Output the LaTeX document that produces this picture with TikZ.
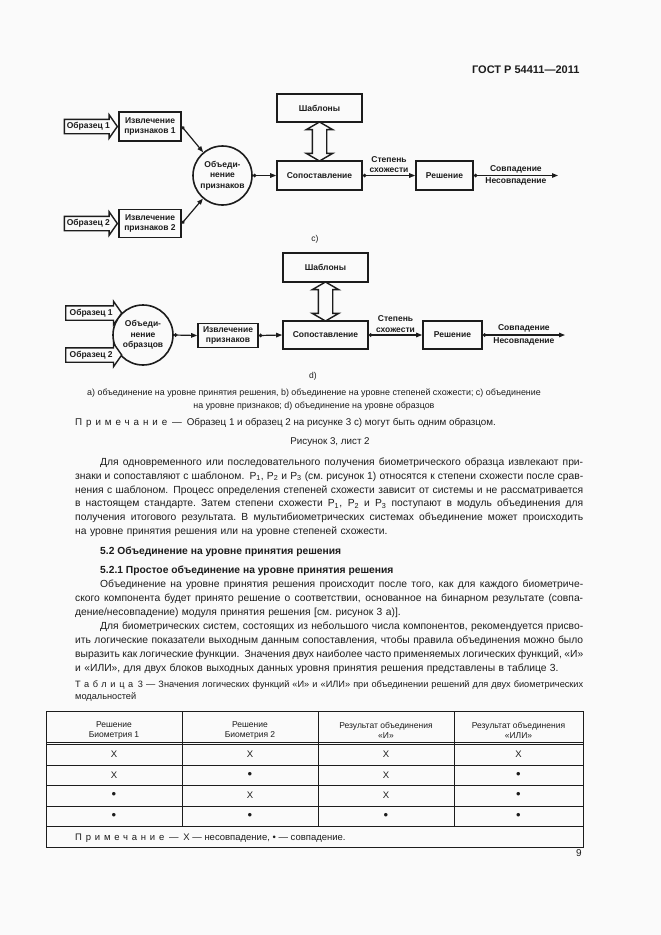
\documentclass[tikz,border=0pt]{standalone}
\usepackage{fontspec}
\setmainfont{Liberation Sans}
\usepackage{xcolor}
\usetikzlibrary{shapes,arrows.meta,positioning,calc}
\definecolor{ink}{RGB}{28,28,28}
\definecolor{paper}{RGB}{250,250,250}

\newcommand{\fsz}[2]{\fontsize{#1}{#2}\selectfont}
\newcommand{\jline}[1]{\makebox[508pt][s]{\spaceskip=0.278em plus 0.8em minus 0.12em\strut#1}}
\newcommand{\spacedword}[1]{{\addfontfeature{LetterSpace=40}#1}}
\newcommand{\bigdot}{{\fontsize{13}{11}\selectfont •}}

\begin{document}
\begin{tikzpicture}[
    x=1pt, y=-1pt,
    box/.style={rectangle, draw=ink, line width=1.6pt, fill=paper, align=center, font=\fsz{8.5}{10}\bfseries, inner sep=1pt},
    fuse/.style={circle, draw=ink, line width=1.6pt, fill=paper, align=center, font=\fsz{8.5}{10.5}\bfseries, minimum size=59pt, inner sep=0pt},
    sample/.style={single arrow, draw=ink, line width=1.4pt, fill=paper, font=\fsz{8.5}{10}\bfseries, text height=6pt, text depth=2pt, inner xsep=1pt, inner ysep=2.5pt, single arrow head extend=4.5pt, single arrow tip angle=110, minimum height=53pt},
    twoway/.style={double arrow, draw=ink, line width=1.4pt, fill=paper, inner sep=6.5pt, double arrow head extend=6pt, double arrow tip angle=120, rotate=90},
    conn/.style={draw=ink, line width=1.2pt, {Circle[length=3.5pt]}-{Triangle[length=6pt,width=4.5pt]}},
    lbl/.style={font=\fsz{8.5}{10.5}\bfseries, align=center, inner sep=1pt},
    caplbl/.style={font=\fsz{8.5}{10}, inner sep=0pt},
    body/.style={anchor=north west, align=left, text width=508pt, inner sep=0pt, font=\fsz{10.3}{13.9}},
    tabrule/.style={draw=ink, line width=0.8pt},
    thead/.style={align=center, font=\fsz{8.5}{10}},
    tcell/.style={font=\fsz{9.5}{11}}
]
    \fill[paper] (0,0) rectangle (661,935);
    \useasboundingbox (0,0) rectangle (661,935);
    \begin{scope}[color=ink]

    \node[anchor=base east, font=\fsz{11}{13}\bfseries] (gost) at (583,73) {ГОСТ Р 54411—2011};

    % Figure 3 c): feature level
    \node[box, minimum width=62pt, minimum height=29pt] (ext1) at (150,126.5) {Извлечение\\признаков 1};
    \node[box, minimum width=62pt, minimum height=28pt] (ext2) at (150,223.5) {Извлечение\\признаков 2};
    \node[sample, anchor=tip] (smp1) at (ext1.west) {Образец 1};
    \node[sample, anchor=tip] (smp2) at (ext2.west) {Образец 2};
    \node[fuse] (fuse1) at (222.5,175.5) {Объеди-\\нение\\признаков};
    \node[box, minimum width=85pt, minimum height=28pt] (tmpl1) at (319.5,108) {Шаблоны};
    \node[box, minimum width=85pt, minimum height=29pt] (match1) at (319.5,175.5) {Сопоставление};
    \node[box, minimum width=57pt, minimum height=29pt] (dec1) at (444.5,175.5) {Решение};
    \coordinate (out1) at (558,175.5);
    \node[twoway, minimum height=39pt] (link1) at ($(tmpl1.south)!0.5!(match1.north)$) {};
    \draw[conn] (ext1.east) -- (fuse1);
    \draw[conn] (ext2.east) -- (fuse1);
    \draw[conn] (fuse1.east) -- (match1.west);
    \draw[conn] (match1.east) -- node[lbl, above=1pt] (sim1) {Степень\\схожести} (dec1.west);
    \draw[conn] (dec1.east) -- node[lbl, above=1pt] (yes1) {Совпадение} node[lbl, below=1pt] (no1) {Несовпадение} (out1);
    \node[caplbl] (capc) at (315,239) {c)};

    % Figure 3 d): sample level
    \node[fuse, minimum size=60pt] (fuse2) at (143,335) {Объеди-\\нение\\образцов};
    \node[sample, anchor=tail, minimum height=56pt] (smp3) at (65,313) {Образец 1};
    \node[sample, anchor=tail, minimum height=56pt] (smp4) at (65,355) {Образец 2};
    \node[box, minimum width=60pt, minimum height=24pt] (ext3) at (228,335.5) {Извлечение\\признаков};
    \node[box, minimum width=85pt, minimum height=29pt] (tmpl2) at (325.5,267.5) {Шаблоны};
    \node[box, minimum width=85pt, minimum height=28pt] (match2) at (325.5,335) {Сопоставление};
    \node[box, minimum width=59pt, minimum height=28pt] (dec2) at (452.5,335) {Решение};
    \coordinate (out2) at (565,335);
    \node[twoway, minimum height=39pt] (link2) at ($(tmpl2.south)!0.5!(match2.north)$) {};
    \draw[conn] (fuse2.east) -- (ext3.west);
    \draw[conn] (ext3.east) -- (match2.west);
    \draw[conn] (match2.east) -- node[lbl, above=1pt] (sim2) {Степень\\схожести} (dec2.west);
    \draw[conn] (dec2.east) -- node[lbl, above=1pt] (yes2) {Совпадение} node[lbl, below=1pt] (no2) {Несовпадение} (out2);
    \node[caplbl] (capd) at (313,376) {d)};

    % captions under the figure
    \node[align=center, font=\fsz{8.9}{13}] (figkey) at (314,399.5) {а) объединение на уровне принятия решения, b) объединение на уровне степеней схожести; c) объединение\\на уровне признаков; d) объединение на уровне образцов};
    \node[anchor=base west, font=\fsz{9.8}{12}, inner sep=0pt] (fignote) at (75,425.5) {\spacedword{Примечание}\enspace—\enspace Образец 1 и образец 2 на рисунке 3 c) могут быть одним образцом.};
    \node[anchor=base, font=\fsz{9.8}{12}, inner sep=0pt] (figtitle) at (330,444) {Рисунок 3, лист 2};

    % running text
    \node[body] (para1) at (75,455.3) {%
        \jline{\hspace*{25pt}Для одновременного или последовательного получения биометрического образца извлекают при-}\\
        \jline{знаки и сопоставляют с шаблоном. P\textsubscript{1}, P\textsubscript{2} и P\textsubscript{3} (см.\ рисунок 1) относятся к степени схожести после срав-}\\
        \jline{нения с шаблоном. Процесс определения степеней схожести зависит от системы и не рассматривается}\\
        \jline{в настоящем стандарте. Затем степени схожести P\textsubscript{1}, P\textsubscript{2} и P\textsubscript{3} поступают в модуль объединения для}\\
        \jline{получения итогового результата. В мультибиометрических системах объединение может происходить}\\
        \strut на уровне принятия решения или на уровне степеней схожести.};
    \node[anchor=base west, font=\fsz{10.3}{13.9}\bfseries, inner sep=0pt] (sec52) at (100,554.5) {5.2 Объединение на уровне принятия решения};
    \node[anchor=base west, font=\fsz{10.3}{13.9}\bfseries, inner sep=0pt] (sec521) at (100,573.5) {5.2.1 Простое объединение на уровне принятия решения};
    \node[body] (para2) at (75,578) {%
        \jline{\hspace*{25pt}Объединение на уровне принятия решения происходит после того, как для каждого биометриче-}\\
        \jline{ского компонента будет принято решение о соответствии, основанное на бинарном результате (совпа-}\\
        \strut дение/несовпадение) модуля принятия решения [см.\ рисунок 3 а)].\\
        \jline{\hspace*{25pt}Для биометрических систем, состоящих из небольшого числа компонентов, рекомендуется присво-}\\
        \jline{ить логические показатели выходным данным сопоставления, чтобы правила объединения можно было}\\
        \jline{выразить как логические функции. Значения двух наиболее часто применяемых логических функций, «И»}\\
        \strut и «ИЛИ», для двух блоков выходных данных уровня принятия решения представлены в таблице 3.};

    % Table 3
    \node[body, font=\fsz{9.2}{12}] (tabcap) at (75,678.6) {%
        \jline{\spacedword{Таблица}\enspace 3 — Значения логических функций «И» и «ИЛИ» при объединении решений для двух биометрических}\\
        \strut модальностей};
    \draw[tabrule] (46,711) rectangle (583,847);
    \draw[tabrule] (46,742) -- (583,742);
    \draw[tabrule] (46,744.5) -- (583,744.5);
    \draw[tabrule] (46,765) -- (583,765);
    \draw[tabrule] (46,785.5) -- (583,785.5);
    \draw[tabrule] (46,806) -- (583,806);
    \draw[tabrule] (46,826.5) -- (583,826.5);
    \draw[tabrule] (182,711) -- (182,826.5);
    \draw[tabrule] (318,711) -- (318,826.5);
    \draw[tabrule] (454,711) -- (454,826.5);
    \node[thead] (h1) at (114,730) {Решение\\Биометрия 1};
    \node[thead] (h2) at (250,730) {Решение\\Биометрия 2};
    \node[thead] (h3) at (386,730) {Результат объединения\\«И»};
    \node[thead] (h4) at (518.5,730) {Результат объединения\\«ИЛИ»};
    \node[tcell] (r1a) at (114,754.5) {X};
    \node[tcell] (r1b) at (250,754.5) {X};
    \node[tcell] (r1c) at (386,754.5) {X};
    \node[tcell] (r1d) at (518.5,754.5) {X};
    \node[tcell] (r2a) at (114,775) {X};
    \node[tcell] (r2b) at (250,775) {\bigdot};
    \node[tcell] (r2c) at (386,775) {X};
    \node[tcell] (r2d) at (518.5,775) {\bigdot};
    \node[tcell] (r3a) at (114,795.5) {\bigdot};
    \node[tcell] (r3b) at (250,795.5) {X};
    \node[tcell] (r3c) at (386,795.5) {X};
    \node[tcell] (r3d) at (518.5,795.5) {\bigdot};
    \node[tcell] (r4a) at (114,816) {\bigdot};
    \node[tcell] (r4b) at (250,816) {\bigdot};
    \node[tcell] (r4c) at (386,816) {\bigdot};
    \node[tcell] (r4d) at (518.5,816) {\bigdot};
    \node[anchor=base west, font=\fsz{9.5}{12}, inner sep=0pt] (tabnote) at (75,840) {\spacedword{Примечание}\enspace—\enspace X — несовпадение, • — совпадение.};

    \node[anchor=base east, font=\fsz{10}{12}, inner sep=0pt] (pageno) at (582,856) {9};
    \end{scope}
\end{tikzpicture}
\end{document}
